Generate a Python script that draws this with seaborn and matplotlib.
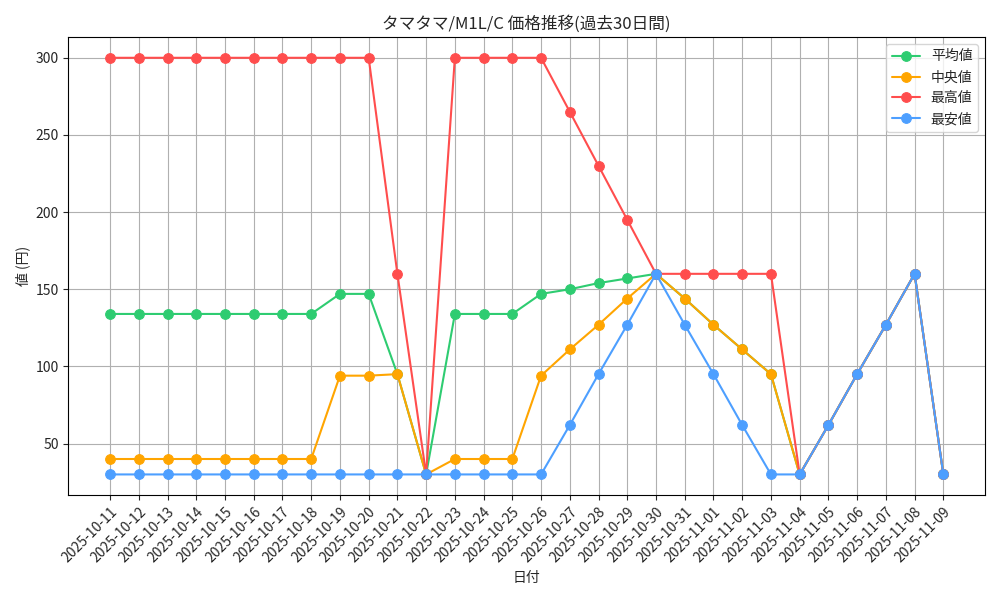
import matplotlib
matplotlib.use("Agg")
import matplotlib.pyplot as plt
import seaborn as sns
import pandas as pd

dates = ["2025-10-11","2025-10-12","2025-10-13","2025-10-14","2025-10-15","2025-10-16",
         "2025-10-17","2025-10-18","2025-10-19","2025-10-20","2025-10-21","2025-10-22",
         "2025-10-23","2025-10-24","2025-10-25","2025-10-26","2025-10-27","2025-10-28",
         "2025-10-29","2025-10-30","2025-10-31","2025-11-01","2025-11-02","2025-11-03",
         "2025-11-04","2025-11-05","2025-11-06","2025-11-07","2025-11-08","2025-11-09"]
avg_vals = [134,134,134,134,134,134,134,134,147,147,95,30,134,134,134,147,150,154,157,160,
            144,127,111,95,30,62,95,127,160,30]
med_vals = [40,40,40,40,40,40,40,40,94,94,95,30,40,40,40,94,111,127,144,160,
            144,127,111,95,30,62,95,127,160,30]
max_vals = [300,300,300,300,300,300,300,300,300,300,160,30,300,300,300,300,265,230,195,160,
            160,160,160,160,30,62,95,127,160,30]
min_vals = [30,30,30,30,30,30,30,30,30,30,30,30,30,30,30,30,62,95,127,160,
            127,95,62,30,30,62,95,127,160,30]

series_names = ["平均値", "中央値", "最高値", "最安値"]
series_colors = ["#2ECC71", "#FFA500", "#FF4D4D", "#4D9FFF"]

sns.set_style("ticks")
plt.rcParams['font.family'] = ['Noto Sans CJK JP', 'DejaVu Sans']

fig, ax = plt.subplots(figsize=(10, 6), dpi=100)
x = list(range(len(dates)))
for name, vals, col in zip(series_names, [avg_vals, med_vals, max_vals, min_vals], series_colors):
    df = pd.DataFrame({"x": x, "y": vals})
    sns.lineplot(data=df, x="x", y="y", ax=ax, color=col, marker="o", markersize=7,
                 markeredgecolor=col, linewidth=1.5, label=name)

ax.set_xticks(x)
ax.set_xticklabels(dates, rotation=45, ha="right", rotation_mode="anchor")
ax.grid(True, color="#b0b0b0", linewidth=0.8)
ax.set_title("タマタマ/M1L/C 価格推移(過去30日間)", fontsize=12)
ax.set_xlabel("日付")
ax.set_ylabel("値 (円)")
ax.set_yticks([50, 100, 150, 200, 250, 300])
for sp in ax.spines.values():
    sp.set_visible(True)
    sp.set_color("black")
ax.legend(loc="upper right")
fig.tight_layout()
fig.savefig("out.png")
